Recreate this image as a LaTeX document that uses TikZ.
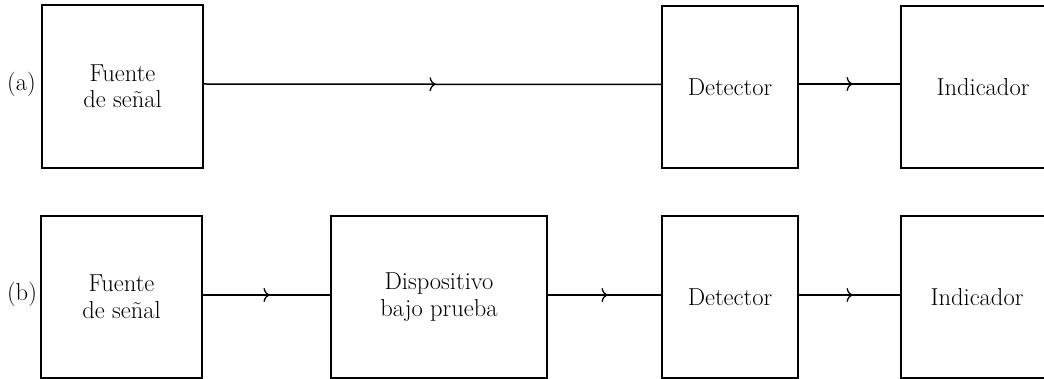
\documentclass[tikz,border=0pt]{standalone}
\usetikzlibrary{arrows.meta,decorations.markings}
\begin{document}
\begin{tikzpicture}[x=1pt,y=-1pt,
  blk/.style={draw=black, line width=1.5pt, align=center, inner sep=0pt,
    font=\fontsize{24.5}{26.5}\selectfont},
  conn/.style={draw=black, line width=1.5pt, postaction={decorate},
    decoration={markings, mark=at position 0.5 with {\arrow[xshift=3pt]{Computer Modern Rightarrow[length=6pt,width=14pt,line width=1.3pt]}}}},
  lbl/.style={font=\fontsize{24.5}{26.5}\selectfont, inner sep=0pt}]
\useasboundingbox (0,0) rectangle (1044,379);
\clip (0,0) rectangle (1044,379);
% row (a)
\node[lbl] (la) at (21.5,84) {(a)};
\node[blk, minimum width=161pt, minimum height=163pt] (fa) at (122.5,86.5) {Fuente\\de señal};
\node[blk, minimum width=136pt, minimum height=162pt] (da) at (730,87) {Detector};
\node[blk, minimum width=164pt, minimum height=162pt] (ia) at (983,87) {Indicador};
\draw[conn] ([yshift=2.5pt]fa.east) -- ([yshift=2.5pt]da.west);
\draw[conn] ([yshift=3pt]da.east) -- ([yshift=3pt]ia.west);
% row (b)
\node[lbl] (lb) at (22,294) {(b)};
\node[blk, minimum width=161pt, minimum height=162pt] (fb) at (121.5,297) {Fuente\\de señal};
\node[blk, minimum width=216pt, minimum height=162pt] (pb) at (439,297) {Dispositivo\\bajo prueba};
\node[blk, minimum width=136pt, minimum height=162pt] (db) at (730,297) {Detector};
\node[blk, minimum width=152pt, minimum height=162pt] (ib) at (977,297) {Indicador};
\draw[conn] ([yshift=2pt]fb.east) -- ([yshift=2pt]pb.west);
\draw[conn] ([yshift=2pt]pb.east) -- ([yshift=2pt]db.west);
\draw[conn] ([yshift=2pt]db.east) -- ([yshift=2pt]ib.west);
\end{tikzpicture}
\end{document}
